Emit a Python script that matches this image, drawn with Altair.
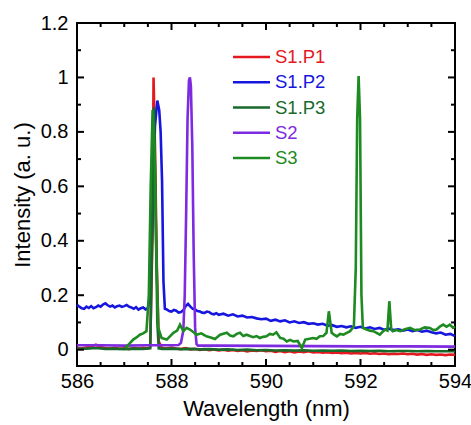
import altair as alt
import pandas as pd

FONT = "Liberation Sans"

series_names = ["S1.P1", "S1.P2", "S1.P3", "S2", "S3"]
series_colors = ["#e3191f", "#1616de", "#176a2b", "#7d2be0", "#1e8a22"]

# S1.P1 (red)
p1_wl = [586.0, 586.1, 586.2, 586.3, 586.4, 586.5, 586.6, 586.7, 586.8, 586.9,
         587.0, 587.1, 587.2, 587.3, 587.4, 587.5, 587.55, 587.6, 587.62, 587.65, 587.69, 587.73, 587.8, 587.9,
         588.0, 588.1, 588.2, 588.3, 588.4, 588.5, 588.6, 588.7, 588.8, 588.9,
         589.0, 589.1, 589.2, 589.3, 589.4, 589.5, 589.6, 589.7, 589.8, 589.9,
         590.0, 590.1, 590.2, 590.3, 590.4, 590.5, 590.6, 590.7, 590.8, 590.9,
         591.0, 591.1, 591.2, 591.3, 591.4, 591.5, 591.6, 591.7, 591.8, 591.9,
         592.0, 592.1, 592.2, 592.3, 592.4, 592.5, 592.6, 592.7, 592.8, 592.9,
         593.0, 593.1, 593.2, 593.3, 593.4, 593.5, 593.6, 593.7, 593.8, 593.9, 594.0]
p1_val = [0.006, 0.004, 0.008, 0.012, 0.018, 0.010, 0.006, 0.004, 0.007, 0.003,
          0.005, 0.002, 0.006, 0.004, 0.007, 0.005, 0.010, 0.45, 1.0, 0.75, 0.30, 0.03, 0.006, 0.004,
          0.008, 0.004, 0.002, 0.006, 0.001, 0.003, -0.001, 0.002, -0.002, 0.001,
          -0.003, 0.000, -0.004, -0.001, -0.005, -0.002, -0.006, -0.003, -0.005, -0.002,
          -0.006, -0.004, -0.008, -0.005, -0.009, -0.006, -0.010, -0.007, -0.009, -0.006,
          -0.010, -0.008, -0.011, -0.009, -0.012, -0.010, -0.013, -0.011, -0.014, -0.012,
          -0.014, -0.012, -0.015, -0.013, -0.016, -0.014, -0.017, -0.015, -0.016, -0.014,
          -0.017, -0.015, -0.018, -0.016, -0.019, -0.017, -0.019, -0.018, -0.020, -0.018, -0.019]

# S1.P2 (blue)
p2_wl = [586.0, 586.05, 586.1, 586.15, 586.2, 586.25, 586.3, 586.35, 586.4, 586.45, 586.5, 586.55, 586.6, 586.65,
         586.7, 586.75, 586.8, 586.85, 586.9, 586.95, 587.0, 587.05, 587.1, 587.15, 587.2, 587.25, 587.3, 587.35,
         587.4, 587.45, 587.5, 587.55, 587.6, 587.65, 587.7, 587.74, 587.77, 587.8, 587.83, 587.86,
         587.9, 587.95, 588.0, 588.05, 588.1, 588.15, 588.2, 588.25, 588.3, 588.35, 588.4, 588.45, 588.5, 588.55,
         588.6, 588.65, 588.7, 588.75, 588.8, 588.85, 588.9, 588.95,
         589.0, 589.1, 589.2, 589.3, 589.4, 589.5, 589.6, 589.7, 589.8, 589.9,
         590.0, 590.1, 590.2, 590.3, 590.4, 590.5, 590.6, 590.7, 590.8, 590.9,
         591.0, 591.1, 591.2, 591.3, 591.4, 591.5, 591.6, 591.7, 591.8, 591.9,
         592.0, 592.1, 592.2, 592.3, 592.4, 592.5, 592.6, 592.7, 592.8, 592.9,
         593.0, 593.1, 593.2, 593.3, 593.4, 593.5, 593.6, 593.7, 593.8, 593.9, 594.0]
p2_val = [0.165, 0.158, 0.152, 0.150, 0.158, 0.153, 0.160, 0.152, 0.156, 0.162, 0.158, 0.166, 0.170, 0.163,
          0.158, 0.162, 0.155, 0.160, 0.162, 0.157, 0.160, 0.164, 0.158, 0.155, 0.150, 0.156, 0.147, 0.152,
          0.155, 0.148, 0.152, 0.20, 0.50, 0.82, 0.915, 0.88, 0.80, 0.62, 0.25, 0.15,
          0.148, 0.142, 0.140, 0.146, 0.143, 0.136, 0.138, 0.145, 0.160, 0.168, 0.158, 0.150, 0.148, 0.142,
          0.140, 0.136, 0.135, 0.140, 0.138, 0.132, 0.130, 0.134,
          0.128, 0.132, 0.125, 0.130, 0.122, 0.125, 0.118, 0.120, 0.115, 0.112,
          0.114, 0.106, 0.110, 0.104, 0.108, 0.100, 0.104, 0.098, 0.101, 0.095,
          0.097, 0.092, 0.095, 0.088, 0.090, 0.084, 0.087, 0.082, 0.086, 0.080,
          0.084, 0.078, 0.082, 0.076, 0.080, 0.073, 0.077, 0.072, 0.075, 0.070,
          0.074, 0.068, 0.072, 0.066, 0.070, 0.064, 0.060, 0.063, 0.055, 0.058, 0.050]

# S1.P3 (dark green)
p3_wl = [586.0, 586.2, 586.4, 586.6, 586.8, 587.0, 587.2, 587.4, 587.55, 587.59, 587.63, 587.66, 587.7, 587.73,
         587.8, 588.0, 588.2, 588.4, 588.6, 588.8, 589.0, 589.2, 589.4, 589.6, 589.8,
         590.0, 590.2, 590.4, 590.6, 590.8, 591.0, 591.2, 591.4, 591.6, 591.8,
         592.0, 592.2, 592.4, 592.6, 592.8, 593.0, 593.2, 593.4, 593.6, 593.8, 594.0]
p3_val = [0.003, 0.004, 0.006, 0.003, 0.004, 0.002, 0.004, 0.003, 0.005, 0.40, 0.89, 0.55, 0.10, 0.005,
          0.003, 0.004, 0.002, 0.003, 0.001, 0.002, 0.000, 0.001, -0.001, 0.000, -0.002,
          -0.001, -0.003, -0.002, -0.003, -0.002, -0.004, -0.003, -0.004, -0.003, -0.005,
          -0.004, -0.005, -0.004, -0.006, -0.005, -0.005, -0.006, -0.005, -0.006, -0.006, -0.006]

# S2 (purple)
s2_wl = [586.0, 586.5, 587.0, 587.5, 588.0, 588.15, 588.2, 588.25, 588.28, 588.31, 588.34, 588.37, 588.39,
         588.41, 588.44, 588.47, 588.5, 588.53, 588.56, 589.0, 590.0, 591.0, 592.0, 593.0, 594.0]
s2_val = [0.016, 0.016, 0.015, 0.016, 0.016, 0.017, 0.025, 0.07, 0.20, 0.50, 0.85, 0.99, 1.0,
          0.97, 0.75, 0.35, 0.08, 0.02, 0.015, 0.015, 0.014, 0.013, 0.012, 0.012, 0.011]

# S3 (green)
s3_wl = [587.02, 587.1, 587.19, 587.26, 587.33, 587.4, 587.47, 587.52, 587.56, 587.6, 587.64, 587.68, 587.72,
         587.79, 587.9, 588.04, 588.12, 588.18, 588.25, 588.32, 588.39, 588.46, 588.53, 588.63, 588.74, 588.83, 588.92,
         589.03, 589.17, 589.24, 589.31, 589.38, 589.45, 589.52, 589.59, 589.66, 589.73, 589.8, 589.87, 589.94,
         590.01, 590.08, 590.15, 590.22, 590.3, 590.37, 590.44, 590.51, 590.58, 590.67, 590.76, 590.83, 590.92,
         591.0, 591.07, 591.14, 591.21, 591.28, 591.33, 591.39, 591.44, 591.5, 591.57, 591.64, 591.71, 591.78,
         591.86, 591.9, 591.93, 591.96, 591.99, 592.02, 592.05, 592.13, 592.2, 592.27, 592.34, 592.41, 592.47,
         592.52, 592.57, 592.61, 592.65, 592.68, 592.76, 592.84, 592.94, 593.05, 593.15, 593.26, 593.36,
         593.47, 593.54, 593.61, 593.68, 593.75, 593.82, 593.89, 593.96, 594.0]
s3_val = [0.006, 0.020, 0.037, 0.045, 0.055, 0.060, 0.068, 0.20, 0.60, 0.88, 0.75, 0.35, 0.08,
          0.043, 0.037, 0.062, 0.070, 0.092, 0.068, 0.080, 0.074, 0.065, 0.055, 0.060, 0.049, 0.045, 0.039,
          0.055, 0.062, 0.052, 0.049, 0.058, 0.062, 0.050, 0.055, 0.050, 0.046, 0.050, 0.043, 0.047,
          0.049, 0.058, 0.055, 0.064, 0.043, 0.040, 0.030, 0.036, 0.030, 0.032, 0.006, 0.037, 0.040,
          0.043, 0.040, 0.049, 0.050, 0.062, 0.141, 0.062, 0.055, 0.049, 0.058, 0.055, 0.062, 0.068,
          0.086, 0.30, 0.85, 1.005, 0.85, 0.20, 0.080, 0.074, 0.070, 0.068, 0.062, 0.055, 0.066,
          0.074, 0.070, 0.178, 0.075, 0.068, 0.072, 0.068, 0.075, 0.080, 0.072, 0.074, 0.082,
          0.080, 0.072, 0.074, 0.085, 0.092, 0.084, 0.092, 0.080, 0.085]

x_major = [586, 588, 590, 592, 594]
x_minor = [586.5, 587, 587.5, 588.5, 589, 589.5, 590.5, 591, 591.5, 592.5, 593, 593.5]
y_major = [0, 0.2, 0.4, 0.6, 0.8, 1.0, 1.2]
y_minor = [0.1, 0.3, 0.5, 0.7, 0.9, 1.1]

rows = []
for name, wl, vals in [("S1.P1", p1_wl, p1_val), ("S1.P2", p2_wl, p2_val), ("S1.P3", p3_wl, p3_val),
                       ("S2", s2_wl, s2_val), ("S3", s3_wl, s3_val)]:
    for w, v in zip(wl, vals):
        rows.append({"series": name, "wl": w, "val": v})
df = pd.DataFrame(rows)

W, H = 378, 343
xscale = alt.Scale(domain=[586, 594], nice=False, zero=False)
yscale = alt.Scale(domain=[-0.06, 1.2], nice=False, zero=False)
cscale = alt.Scale(domain=series_names, range=series_colors)

xaxis = alt.Axis(values=x_major, tickOpacity=0, tickSize=5, domainOpacity=0, gridOpacity=0,
                 labelFont=FONT, labelFontSize=20, labelPadding=0, format="d", labelFlush=False,
                 title="Wavelength (nm)", titleFont=FONT, titleFontSize=22, titleFontWeight="normal",
                 titlePadding=7)
yaxis = alt.Axis(values=y_major, tickOpacity=0, tickSize=5, domainOpacity=0, gridOpacity=0,
                 labelFont=FONT, labelFontSize=20, labelPadding=4, format="~g", labelFlush=False,
                 title="Intensity (a. u.)", titleFont=FONT, titleFontSize=22, titleFontWeight="normal",
                 titlePadding=6)

lines = alt.Chart(df).mark_line(strokeWidth=2.6).encode(
    x=alt.X("wl:Q", scale=xscale, axis=xaxis),
    y=alt.Y("val:Q", scale=yscale, axis=yaxis),
    color=alt.Color("series:N", scale=cscale, legend=None),
    detail="series:N",
)

def xticks(vals, length):
    d = pd.DataFrame({"tv": vals})
    bottom = alt.Chart(d).mark_rule(color="#000000", strokeWidth=2).encode(
        x=alt.X("tv:Q", scale=xscale), y=alt.value(H), y2=alt.value(H - length))
    top = alt.Chart(d).mark_rule(color="#000000", strokeWidth=2).encode(
        x=alt.X("tv:Q", scale=xscale), y=alt.value(0), y2=alt.value(length))
    return [bottom, top]

def yticks(vals, length):
    d = pd.DataFrame({"tv": vals})
    left = alt.Chart(d).mark_rule(color="#000000", strokeWidth=2).encode(
        y=alt.Y("tv:Q", scale=yscale), x=alt.value(0), x2=alt.value(length))
    right = alt.Chart(d).mark_rule(color="#000000", strokeWidth=2).encode(
        y=alt.Y("tv:Q", scale=yscale), x=alt.value(W), x2=alt.value(W - length))
    return [left, right]

legend_layers = []
for i, name in enumerate(series_names):
    row = pd.DataFrame({"series": [name]})
    ypix = 34 + i * 25.25
    legend_layers.append(alt.Chart(row).mark_rule(strokeWidth=2.4).encode(
        x=alt.value(156), x2=alt.value(193), y=alt.value(ypix),
        color=alt.Color("series:N", scale=cscale, legend=None)))
    legend_layers.append(alt.Chart(row).mark_text(align="left", baseline="middle", fontSize=18.5, font=FONT).encode(
        x=alt.value(198), y=alt.value(ypix), text="series:N",
        color=alt.Color("series:N", scale=cscale, legend=None)))

chart = alt.layer(
    lines,
    *xticks(x_major, 7), *xticks(x_minor, 4),
    *yticks(y_major, 7), *yticks(y_minor, 4),
    *legend_layers,
).properties(
    width=W, height=H,
    autosize=alt.AutoSizeParams(type="none"),
    padding={"left": 77, "top": 23, "right": 16, "bottom": 59},
    background="white",
).configure_view(stroke="black", strokeWidth=2)

chart.save("out.html", embed_options={"renderer": "svg", "actions": False})
